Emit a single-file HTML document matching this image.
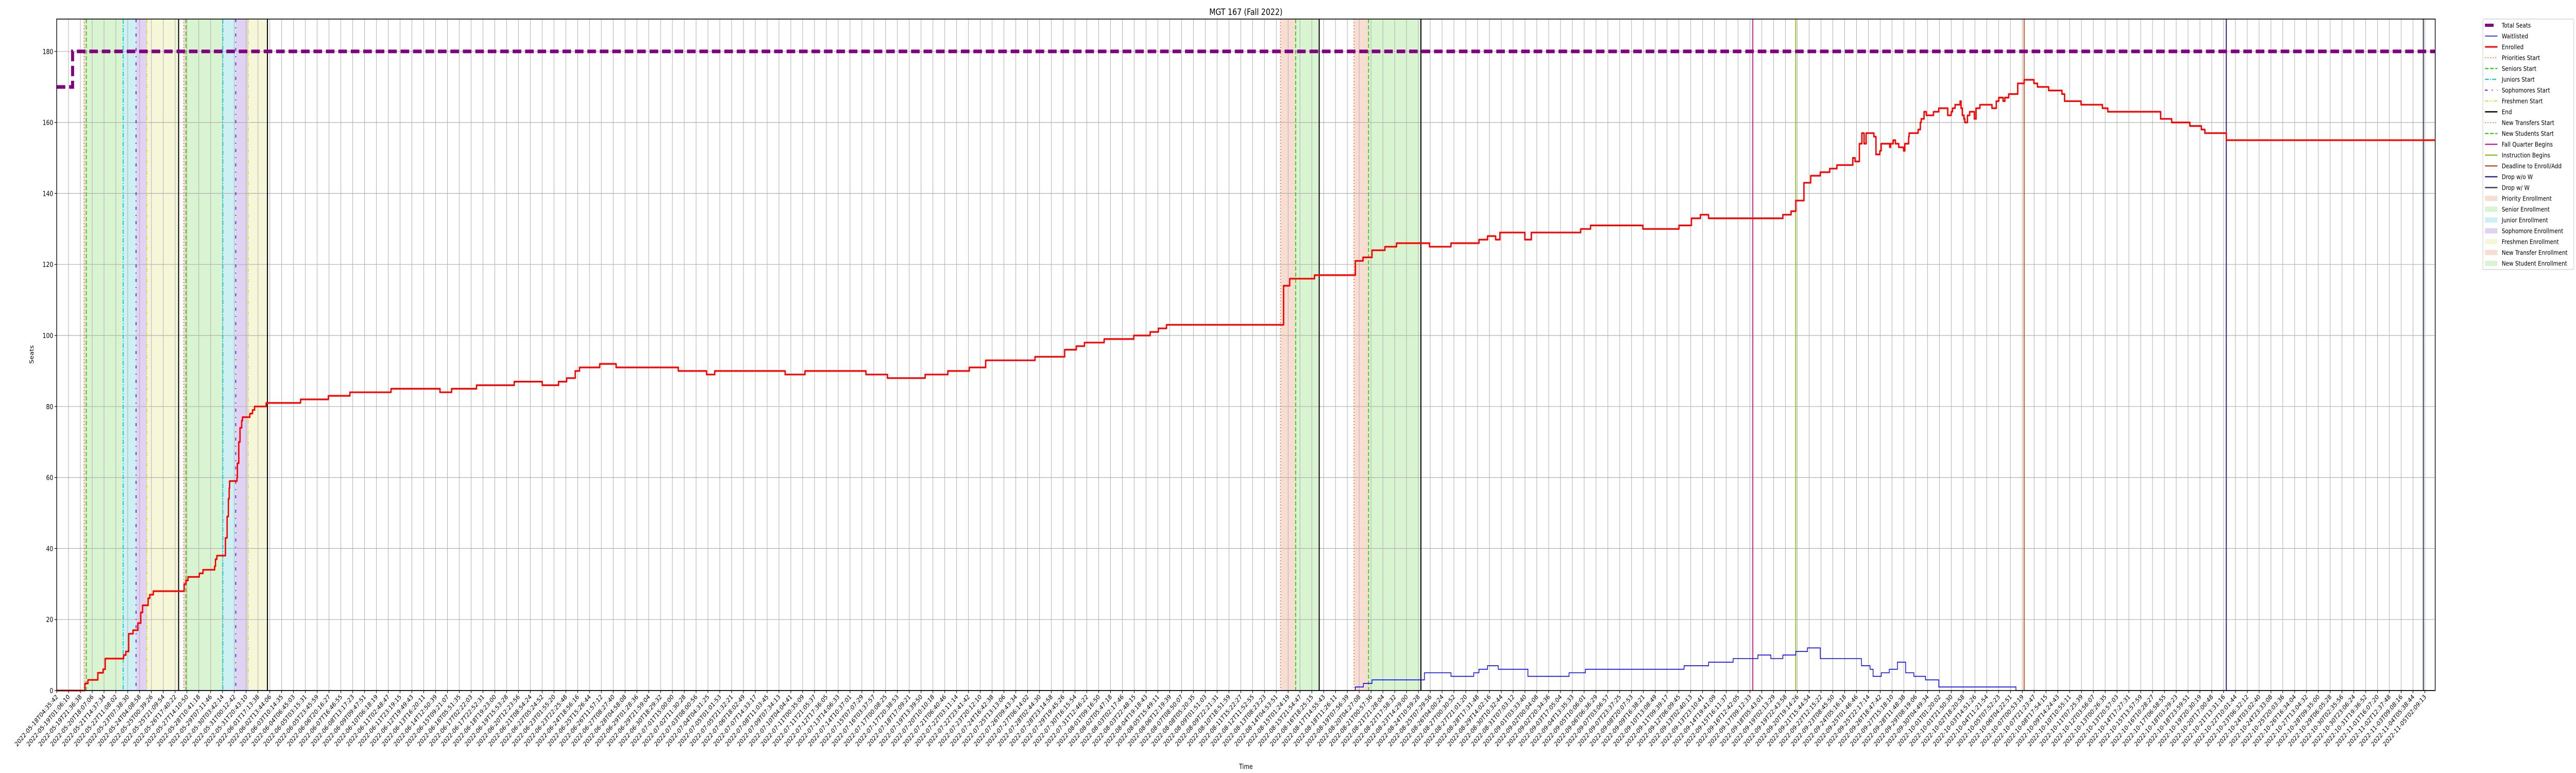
<!DOCTYPE html>
<html><head><meta charset="utf-8">
<style>
html,body{margin:0;padding:0;background:#fff;width:100%;height:100%;overflow:hidden;}
svg{display:block;font-family:"DejaVu Sans","Liberation Sans",sans-serif;width:100vw;height:100vh;}
</style></head>
<body>
<svg id="chart" viewBox="0 0 6000 1500" preserveAspectRatio="none" xmlns="http://www.w3.org/2000/svg">
<rect x="0" y="0" width="6000" height="1500" fill="#fff"/>
<g id="spans"></g>
<g id="grid"></g>
<g id="vlines"></g>
<g id="series"></g>
<rect x="132" y="37" width="5540" height="1303" fill="none" stroke="#000" stroke-width="1.6"/>
<g id="yticks"></g>
<g id="xticks"></g>
<text x="2902" y="29" font-size="17" text-anchor="middle">MGT 167 (Fall 2022)</text>
<text x="0" y="0" font-size="13" text-anchor="middle" transform="translate(78,688) rotate(-90)">Seats</text>
<text x="2902" y="1492" font-size="13" text-anchor="middle">Time</text>
<g id="legend"></g>
</svg>
<script>
// ---- data (x values = days since 2022-05-18T04:35:42) ----
const seatDays = [0, 1.15, 171.64];
const seatVals = [170, 180, 180];

const enrolledDays = [0,2.04,2.26,2.97,3.35,3.50,4.83,4.99,5.20,5.51,5.86,6.07,6.20,6.60,6.72,6.97,9.20,9.33,9.48,10.29,10.56,11.40,11.46,11.56,12.18,12.30,12.39,12.45,12.48,13.01,13.04,13.14,13.23,13.35,13.41,13.94,14.13,14.28,15.12,17.60,19.61,21.16,24.13,27.66,28.50,30.30,33.02,35.04,36.22,36.80,37.42,37.73,39.19,40.37,44.86,46.90,47.49,52.57,54.00,58.40,59.95,62.67,64.31,65.86,67.04,70.60,72.74,73.58,74.17,75.59,77.73,78.91,79.50,80.09,88.54,88.98,90.77,93.72,94.27,94.92,95.85,96.69,99.07,100.62,102.64,103.26,103.84,104.15,105.95,106.42,109.98,110.69,114.47,117.07,117.97,118.62,119.21,124.57,125.16,125.50,126.09,126.58,127.27,127.95,128.47,129.62,129.78,130.09,130.27,130.43,130.58,131.14,131.29,131.57,131.66,132.28,132.34,132.53,132.69,132.93,133.28,133.37,133.65,133.68,134.33,134.49,134.55,134.76,134.92,135.44,135.82,136.47,136.72,136.81,137.00,137.36,137.43,137.52,137.64,137.70,137.89,138.05,138.39,138.51,138.79,139.66,139.97,140.15,140.46,140.59,140.87,141.52,141.98,142.69,142.94,143.75,144.71,144.90,146.09,147.63,148.02,151.83,152.63,153.94,154.77,155.02,156.57,171.64];
const enrolledVals = [0,2,3,5,6,9,10,11,16,17,19,22,24,26,27,28,30,31,32,33,34,35,37,38,43,49,54,57,59,60,64,70,74,76,77,78,79,80,81,82,83,84,85,84,85,86,87,86,87,88,90,91,92,91,90,89,90,89,90,89,88,89,90,91,93,94,96,97,98,99,100,101,102,103,114,116,117,121,122,124,125,126,125,126,127,128,127,129,127,129,130,131,130,131,133,134,133,134,135,138,143,145,146,147,148,150,149,154,157,154,157,156,151,152,154,153,154,155,154,153,152,154,156,157,158,160,161,163,162,163,164,162,163,164,165,166,164,162,161,160,162,163,161,164,165,164,166,167,166,167,168,171,172,171,170,169,168,166,165,164,163,161,160,159,158,157,155,155];

const waitDays = [0,93.72,94.30,94.92,98.70,100.62,102.26,102.64,103.26,104.03,106.17,109.14,110.32,117.44,119.21,120.98,122.77,123.70,124.57,125.50,126.34,127.27,130.24,130.86,131.08,131.67,132.25,132.84,133.43,134.02,134.86,135.82,141.39,171.64];
const waitVals = [0,1,2,3,5,4,5,6,7,6,4,5,6,7,8,9,10,9,10,11,12,9,7,6,4,5,6,8,5,4,3,1,0,0];

// enrollment periods
const spanStart = [1.98,2.14,4.80,5.73,6.51, 9.17,9.33,11.99,12.92,13.82, 88.32,89.41, 93.62,94.67];
const spanEnd   = [2.14,4.80,5.73,6.51,8.80, 9.33,11.99,12.92,13.82,15.21, 89.41,91.11, 94.67,98.45];
const spanKind  = ['priority','senior','junior','soph','fresh','priority','senior','junior','soph','fresh','transfer','newstudent','transfer','newstudent'];

// event lines
const eventDays = [1.98,2.14,4.80,5.73,6.51,8.80, 9.17,9.33,11.99,12.92,13.82,15.21, 88.32,89.41,91.11, 93.62,94.67,98.45, 122.40,125.50,141.98,156.57,170.79];
const eventKind = ['priority','senior','junior','soph','fresh','end','priority','senior','junior','soph','fresh','end','transfer','newstudent','end','transfer','newstudent','end','fall','instr','deadline','dropnow','dropw'];

const yTicks = [0,20,40,60,80,100,120,140,160,180];
const tickCount = 201;
const tickStartISO = "2022-05-18T04:35:42";
const tickEndISO = "2022-11-05T02:09:13";

// ---- scales ----
const X0=132, X1=5672, Y0=1340, Y1=37;
const LAST_TICK_DAY=170.9, LAST_TICK_X=5648;
function xs(d){ return X0 + d/LAST_TICK_DAY*(LAST_TICK_X-X0); }
function ys(v){ return Y0 - v*6.89; }

const NS="http://www.w3.org/2000/svg";
function mk(tag, attrs, parent){
  const e=document.createElementNS(NS,tag);
  for(const k in attrs) e.setAttribute(k,attrs[k]);
  parent.appendChild(e); return e;
}
const spanFill={priority:'#f7ddd2',transfer:'#f7ddd2',senior:'#d8f4d0',newstudent:'#d8f4d0',junior:'#cdf0f2',soph:'#dfd2f3',fresh:'#f6f7d8'};
const lineStyle={
  priority:{c:'#f07030',w:2,d:'2,4'}, transfer:{c:'#f07030',w:2,d:'2,4'},
  senior:{c:'#33cc11',w:2.2,d:'8,4'}, newstudent:{c:'#33cc11',w:2.2,d:'8,4'},
  junior:{c:'#11c8dc',w:2.2,d:'9,3,2,3'}, soph:{c:'#6622dd',w:2.2,d:'6,10,2,10'},
  fresh:{c:'#dddd22',w:2,d:'8,3,2,3,2,3'}, end:{c:'#000',w:2.4,d:''},
  fall:{c:'#dd1199',w:2.2,d:''}, instr:{c:'#88bb11',w:2.2,d:''}, deadline:{c:'#cc4411',w:2.2,d:''},
  dropnow:{c:'#332288',w:2.4,d:''}, dropw:{c:'#334455',w:2.4,d:''}
};

const gSpans=document.getElementById('spans');
for(let i=0;i<spanStart.length;i++){
  const r=mk('rect',{x:xs(spanStart[i]),y:Y1,width:xs(spanEnd[i])-xs(spanStart[i]),height:Y0-Y1,fill:spanFill[spanKind[i]]},gSpans);
  
  
}

// grid
const gGrid=document.getElementById('grid');
const t0=Date.parse(tickStartISO+"Z"), t1=Date.parse(tickEndISO+"Z");
const tickLabels=[];
for(let i=0;i<tickCount;i++){
  const t=new Date(t0+(t1-t0)*i/(tickCount-1));
  tickLabels.push(t.toISOString().slice(0,19));
}
for(let i=0;i<tickCount;i++){
  const x=X0+(LAST_TICK_X-X0)*i/(tickCount-1);
  const l=mk('line',{x1:x,x2:x,y1:Y1,y2:Y0,stroke:'#b0b0b0','stroke-width':1.2},gGrid);
  
  
}
for(const v of yTicks){
  const l=mk('line',{x1:X0,x2:X1,y1:ys(v),y2:ys(v),stroke:'#b0b0b0','stroke-width':1.2},gGrid);
  
  
}

// event lines
const gV=document.getElementById('vlines');
for(let i=0;i<eventDays.length;i++){
  const s=lineStyle[eventKind[i]], x=xs(eventDays[i]);
  const l=mk('line',{x1:x,x2:x,y1:Y1,y2:Y0,stroke:s.c,'stroke-width':s.w},gV);
  if(s.d) l.setAttribute('stroke-dasharray',s.d);
  
  
}

// series
function stepPath(ds,vs){
  let p='M'+xs(ds[0]).toFixed(1)+','+ys(vs[0]).toFixed(1);
  for(let i=1;i<ds.length;i++){
    p+='H'+xs(ds[i]).toFixed(1)+'V'+ys(vs[i]).toFixed(1);
  }
  return p;
}
const gS=document.getElementById('series');
const seats=mk('path',{d:stepPath(seatDays,seatVals),fill:'none',stroke:'#800080','stroke-width':7,'stroke-dasharray':'20,9'},gS);


const wl=mk('path',{d:stepPath(waitDays,waitVals),fill:'none',stroke:'#0000ff','stroke-width':1.6},gS);


const en=mk('path',{d:stepPath(enrolledDays,enrolledVals),fill:'none',stroke:'#ff0000','stroke-width':3.2,'stroke-linejoin':'round'},gS);



// y ticks
const gY=document.getElementById('yticks');
for(const v of yTicks){
  const y=ys(v);
  mk('line',{x1:X0-5,x2:X0,y1:y,y2:y,stroke:'#000','stroke-width':1.2},gY);
  const t=mk('text',{x:X0-8,y:y+5,'font-size':13,'text-anchor':'end'},gY);
  t.textContent=v;
  
  
}
// x ticks
const gX=document.getElementById('xticks');
for(let i=0;i<tickCount;i++){
  const x=X0+(LAST_TICK_X-X0)*i/(tickCount-1);
  mk('line',{x1:x,x2:x,y1:Y0,y2:Y0+5,stroke:'#000','stroke-width':1.2},gX);
  const t=mk('text',{x:0,y:0,'font-size':12.5,'text-anchor':'end',transform:'translate('+(x+4)+','+(Y0+13)+') rotate(-45)'},gX);
  t.textContent=tickLabels[i];
  
  
}

// legend
const legNames=['Total Seats','Waitlisted','Enrolled','Priorities Start','Seniors Start','Juniors Start','Sophomores Start','Freshmen Start','End','New Transfers Start','New Students Start','Fall Quarter Begins','Instruction Begins','Deadline to Enroll/Add','Drop w/o W','Drop w/ W','Priority Enrollment','Senior Enrollment','Junior Enrollment','Sophomore Enrollment','Freshmen Enrollment','New Transfer Enrollment','New Student Enrollment'];
const legKeys=['seats','wait','enr','priority','senior','junior','soph','fresh','end','transfer','newstudent','fall','instr','deadline','dropnow','dropw','Spriority','Ssenior','Sjunior','Ssoph','Sfresh','Stransfer','Snewstudent'];
const gL=document.getElementById('legend');
const lb=mk('rect',{x:5783,y:37,width:212,height:486,rx:3,fill:'#fff',stroke:'#cccccc','stroke-width':1.2},gL);


for(let i=0;i<legNames.length;i++){
  const y=49+i*21, k=legKeys[i];
  const g=mk('g',{},gL);
  
  
  if(k==='seats') mk('line',{x1:5788,x2:5808,y1:y,y2:y,stroke:'#800080','stroke-width':6},g);
  else if(k==='wait') mk('line',{x1:5788,x2:5817,y1:y,y2:y,stroke:'#0000ff','stroke-width':1.6},g);
  else if(k==='enr') mk('line',{x1:5788,x2:5817,y1:y,y2:y,stroke:'#ff0000','stroke-width':3},g);
  else if(k[0]==='S') mk('rect',{x:5788,y:y-5,width:29,height:10,fill:spanFill[k.slice(1)]},g);
  else { const s=lineStyle[k]; const l=mk('line',{x1:5788,x2:5817,y1:y,y2:y,stroke:s.c,'stroke-width':s.w},g); if(s.d) l.setAttribute('stroke-dasharray',s.d); }
  const t=mk('text',{x:5827,y:y+4.5,'font-size':12.5},g);
  t.textContent=legNames[i];
}
</script>
</body></html>
